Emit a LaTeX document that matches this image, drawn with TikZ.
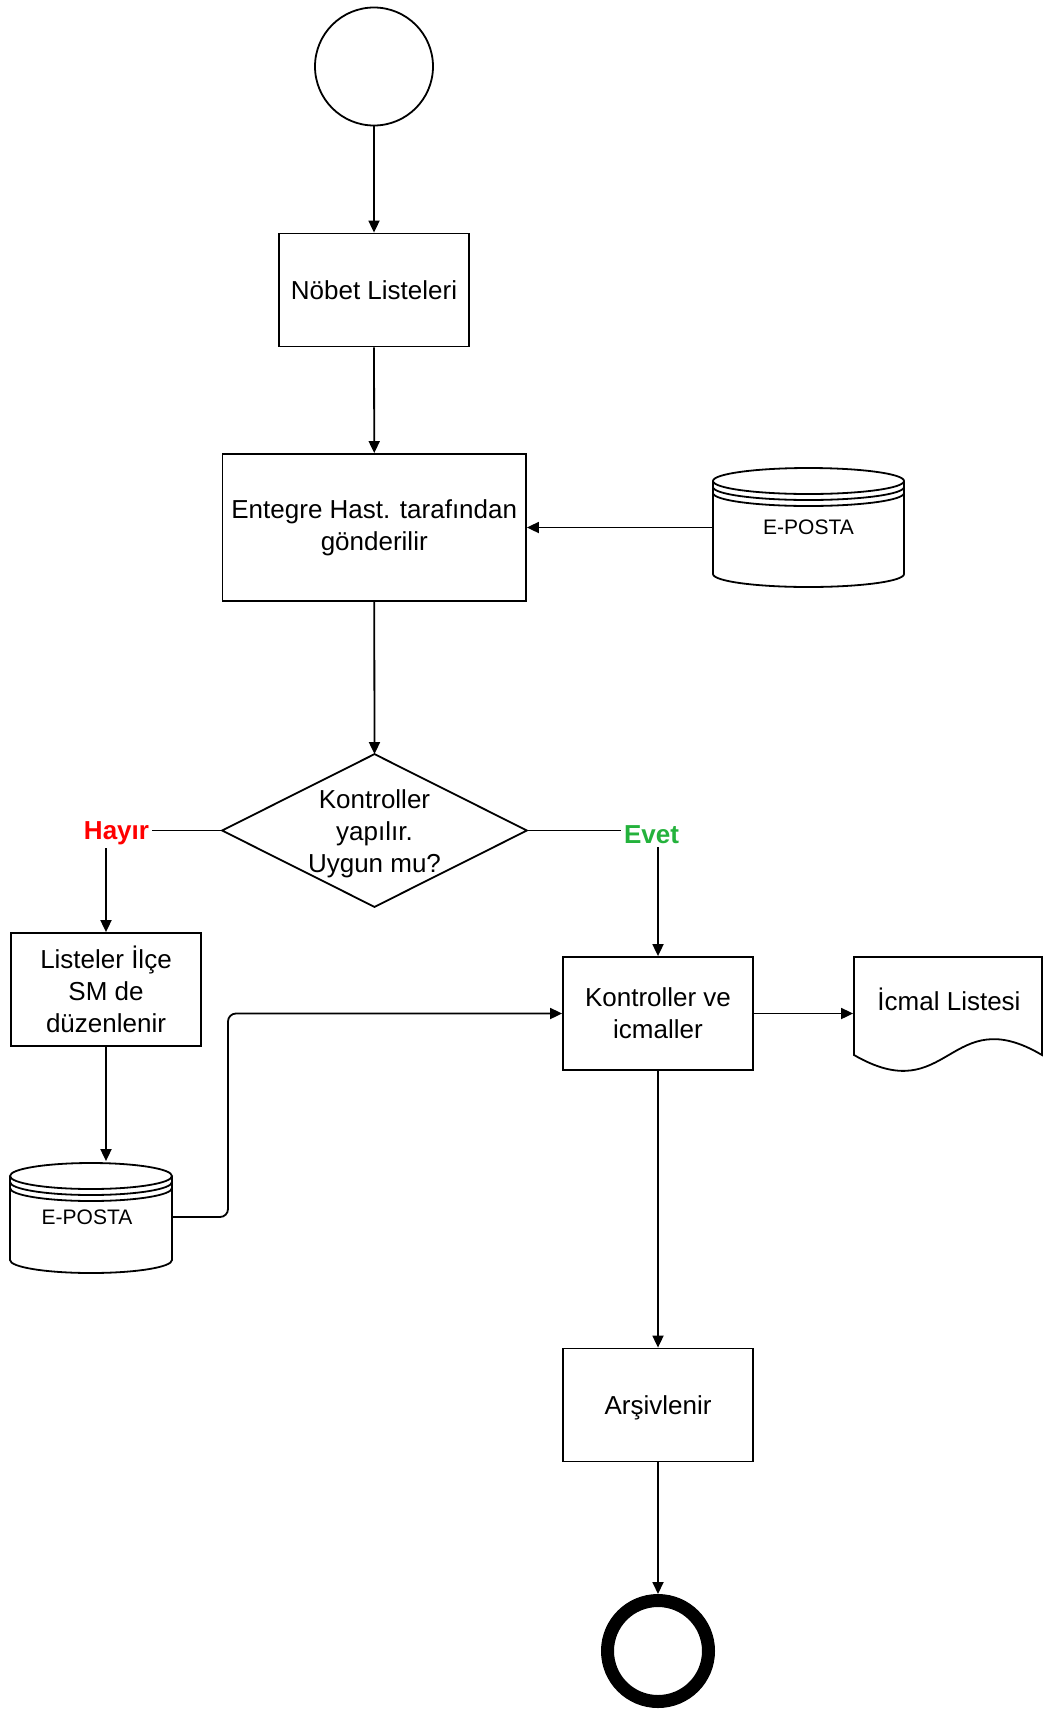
\documentclass[tikz,border=0pt]{standalone}
\usepackage{fontspec}
\setmainfont{Liberation Sans}
\usetikzlibrary{arrows.meta}
\definecolor{evetgreen}{RGB}{36,178,60}
\begin{document}
\begin{tikzpicture}[x=1pt,y=-1pt,
  line width=1.8pt,
  every node/.style={font=\fontsize{26}{32}\selectfont, align=center},
  proc/.style={draw, rectangle, minimum width=190pt, minimum height=113pt, inner sep=0pt},
  ghost/.style={rectangle, inner sep=0pt},
  arr/.style={-{Triangle[length=12pt,width=11pt]}},
  lbl/.style={fill=white, inner sep=3pt, font=\fontsize{26}{32}\selectfont\bfseries},
  small/.style={font=\fontsize{21}{25}\selectfont}
]
\useasboundingbox (0,0) rectangle (1043,1711);

% nodes
\node[draw, circle, minimum size=118pt, inner sep=0pt] (start) at (374,66.5) {};
\node[proc] (nobet) at (374,290) {Nöbet Listeleri};
\node[proc, minimum width=303.5pt, minimum height=147pt] (entegre) at (374.25,527.5) {Entegre Hast. tarafından\\gönderilir};

% decision
\node[ghost, minimum width=303pt, minimum height=151pt] (karar) at (374.5,830.5) {};
\draw (karar.north) -- (karar.east) -- (karar.south) -- (karar.west) -- cycle;
\node (karartxt) at (374.5,833.5) {Kontroller\\yapılır.\\Uygun mu?};

% E-POSTA top right
\node[ghost, small, minimum width=191pt, minimum height=119pt] (ep1) at (808.5,527.5) {E-POSTA};
\draw (808.5,481) ellipse[x radius=95.5pt, y radius=13pt];
\draw (713,487) arc[start angle=180, end angle=360, x radius=95.5pt, y radius=13pt];
\draw (713,493) arc[start angle=180, end angle=360, x radius=95.5pt, y radius=13pt];
\draw (713,481) -- (713,574) arc[start angle=180, end angle=360, x radius=95.5pt, y radius=13pt] -- (904,481);

% left branch
\node[proc] (listeler) at (106,989.5) {Listeler İlçe\\SM de\\düzenlenir};
\node[ghost, minimum width=162pt, minimum height=110pt] (ep2) at (91,1217) {};
\node[small] (ep2txt) at (87,1217) {E-POSTA};
\draw (91,1176) ellipse[x radius=81pt, y radius=13pt];
\draw (10,1182) arc[start angle=180, end angle=360, x radius=81pt, y radius=13pt];
\draw (10,1188) arc[start angle=180, end angle=360, x radius=81pt, y radius=13pt];
\draw (10,1176) -- (10,1260) arc[start angle=180, end angle=360, x radius=81pt, y radius=13pt] -- (172,1176);

% right branch
\node[proc] (kontrol) at (658,1013.5) {Kontroller ve\\icmaller};
\node[ghost, minimum width=190pt, minimum height=98pt] (icmal) at (949,1006) {};
\draw (854,1055) -- (854,957) -- (1042,957) -- (1042,1055)
  .. controls (949,1000) and (949,1110) .. (854,1055) -- cycle;
\node (icmaltxt) at (949,999) {İcmal Listesi};
\node[proc] (arsiv) at (658,1405) {};
\node (arsivtxt) at (658,1408) {Arşivlenir};
\node[draw, circle, line width=13pt, minimum size=101pt, inner sep=0pt] (end) at (658,1651) {};

% connectors
\draw[arr] (start.south) -- (nobet.north);
\draw[arr] (nobet.south) -- (entegre.north);
\draw[arr] (ep1.west) -- (entegre.east);
\draw[arr] (entegre.south) -- (karar.north);
\draw[arr] (karar.west) -| (listeler.north);
\node[lbl, text=red] (hayir) at (116.5,833.5) {Hayır};
\draw[arr] (karar.east) -| (kontrol.north);
\node[lbl, text=evetgreen] (evet) at (651.5,835) {Evet};
\draw[arr] (listeler.south) -- (listeler.south |- ep2.north);
\coordinate (bend) at (228,1217);
\draw[arr, rounded corners=8pt] (ep2.east) -- (bend) |- (kontrol.west);
\draw[arr] (kontrol.east) -- (kontrol.east -| icmal.west);
\draw[arr] (kontrol.south) -- (arsiv.north);
\draw[arr] (arsiv.south) -- (end.north);
\end{tikzpicture}
\end{document}
